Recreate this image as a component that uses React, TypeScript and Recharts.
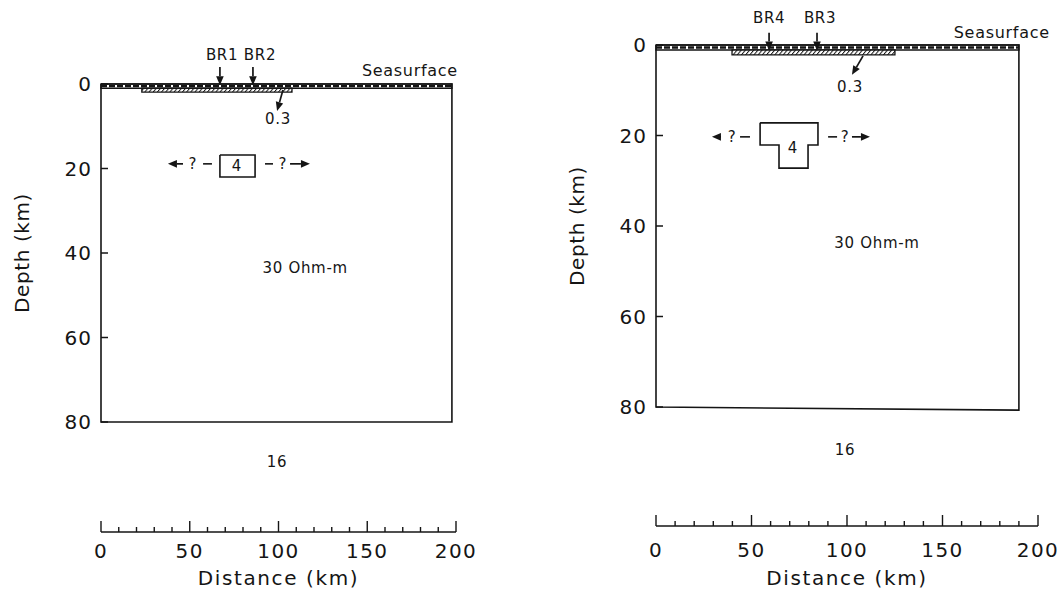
import React from 'react';
import { ComposedChart, XAxis, YAxis, Scatter, ReferenceArea, ReferenceLine } from 'recharts';

const FONT = '"DejaVu Sans", Verdana, sans-serif';
const INK = '#151515';

type Pt = { x: number; y: number };
type Note = Pt & { text: string };
type Seg = { from: Pt; to: Pt };
type Band = { x1: number; x2: number; y1: number; y2: number };

// shared axes (distance in km, depth in km)
const distanceTicks = [0, 10, 20, 30, 40, 50, 60, 70, 80, 90, 100, 110, 120, 130, 140, 150, 160, 170, 180, 190, 200];
const distanceLabels = [0, 50, 100, 150, 200];
const depthTicks = [0, 20, 40, 60, 80];

// ---- left model (BR1 / BR2)
const leftOutline: Pt[] = [
  { x: 0, y: 0 }, { x: 197.7, y: 0 }, { x: 197.7, y: 80 }, { x: 0, y: 80 }, { x: 0, y: 0 },
];
const leftSea: Band = { x1: 0, x2: 197.7, y1: 0, y2: 1 };
const leftSediment: Band = { x1: 23, x2: 107.6, y1: 1, y2: 1.9 };
const leftBody: Pt[] = [
  { x: 67, y: 16.8 }, { x: 86.8, y: 16.8 }, { x: 86.8, y: 22 }, { x: 67, y: 22 }, { x: 67, y: 16.8 },
];
const leftArrows: Seg[] = [
  { from: { x: 67, y: -4.0 }, to: { x: 67, y: 0.3 } },
  { from: { x: 85.6, y: -4.0 }, to: { x: 85.6, y: 0.3 } },
  { from: { x: 102.5, y: 1.4 }, to: { x: 99.2, y: 6.4 } },
  { from: { x: 46.2, y: 18.9 }, to: { x: 37.7, y: 18.9 } },
  { from: { x: 106.5, y: 18.9 }, to: { x: 117.7, y: 18.9 } },
];
const leftDashes: Seg[] = [
  { from: { x: 57.5, y: 18.9 }, to: { x: 62.5, y: 18.9 } },
  { from: { x: 92.4, y: 18.9 }, to: { x: 96.9, y: 18.9 } },
];
const leftNotes: Note[] = [
  { x: 68.2, y: -6.9, text: 'BR1' },
  { x: 89.6, y: -6.9, text: 'BR2' },
  { x: 174, y: -3.3, text: 'Seasurface' },
  { x: 99.7, y: 8.3, text: '0.3' },
  { x: 76.6, y: 19.4, text: '4' },
  { x: 51.8, y: 18.9, text: '?' },
  { x: 102.5, y: 18.9, text: '?' },
  { x: 115, y: 43.5, text: '30 Ohm-m' },
  { x: 99.2, y: 89.5, text: '16' },
];

// ---- right model (BR4 / BR3)
const rightOutline: Pt[] = [
  { x: 0, y: 0 }, { x: 190, y: 0 }, { x: 190, y: 80.7 }, { x: 0, y: 80 }, { x: 0, y: 0 },
];
const rightSea: Band = { x1: 0, x2: 190, y1: 0, y2: 1.1 };
const rightSediment: Band = { x1: 39.8, x2: 125.1, y1: 1.1, y2: 2.2 };
const rightBody: Pt[] = [
  { x: 54.5, y: 17.2 }, { x: 84.8, y: 17.2 }, { x: 84.8, y: 22.1 }, { x: 79.6, y: 22.1 },
  { x: 79.6, y: 27.2 }, { x: 64.4, y: 27.2 }, { x: 64.4, y: 22.1 }, { x: 54.5, y: 22.1 }, { x: 54.5, y: 17.2 },
];
const rightArrows: Seg[] = [
  { from: { x: 59.2, y: -2.7 }, to: { x: 59.2, y: 1.2 } },
  { from: { x: 84.3, y: -2.7 }, to: { x: 84.3, y: 1.2 } },
  { from: { x: 108.4, y: 2.4 }, to: { x: 102.6, y: 6.6 } },
  { from: { x: 33.5, y: 20.3 }, to: { x: 29.3, y: 20.3 } },
  { from: { x: 102.6, y: 20.3 }, to: { x: 112, y: 20.3 } },
];
const rightDashes: Seg[] = [
  { from: { x: 44, y: 20.3 }, to: { x: 49.2, y: 20.3 } },
  { from: { x: 90.1, y: 20.3 }, to: { x: 94.8, y: 20.3 } },
];
const rightNotes: Note[] = [
  { x: 59.2, y: -6.0, text: 'BR4' },
  { x: 85.9, y: -6.0, text: 'BR3' },
  { x: 181, y: -2.7, text: 'Seasurface' },
  { x: 101.6, y: 9.3, text: '0.3' },
  { x: 71.7, y: 22.8, text: '4' },
  { x: 39.8, y: 20.3, text: '?' },
  { x: 99, y: 20.3, text: '?' },
  { x: 115.7, y: 43.8, text: '30 Ohm-m' },
  { x: 99, y: 89.5, text: '16' },
];

type Layout = {
  id: string;
  left: number; width: number;
  plotLeft: number; plotRight: number;
  zeroY: number; kmPx: number; axisY: number; topKm: number;
  numDy: number; titleDy: number; depthTitleX: number;
};

const leftLayout: Layout = {
  id: 'l', left: 0, width: 532, plotLeft: 101, plotRight: 456,
  zeroY: 84, kmPx: 4.225, axisY: 532, topKm: -12, numDy: 19, titleDy: 46, depthTitleX: 22,
};
const rightLayout: Layout = {
  id: 'r', left: 532, width: 532, plotLeft: 656, plotRight: 1038,
  zeroY: 45, kmPx: 4.525, axisY: 526, topKm: -9, numDy: 24, titleDy: 52, depthTitleX: 45,
};

const H = 594;
const Y_AXIS_W = 60;
const X_AXIS_H = 56;

const NoDot = () => null;

const NoteShape = (p: any) => {
  const big = p.payload.text === 'Seasurface';
  return (
    <text x={p.cx} y={p.cy} textAnchor="middle" dominantBaseline="central"
      fontFamily={FONT} fontSize={big ? 16 : 15} letterSpacing={0.7} fill={INK}>
      {p.payload.text}
    </text>
  );
};

const arrowShape = (p: any) => {
  const { x1, y1, x2, y2 } = p;
  const a = Math.atan2(y2 - y1, x2 - x1);
  const L = 9, W = 3.8;
  const bx = x2 - L * Math.cos(a), by = y2 - L * Math.sin(a);
  const pts = `${x2},${y2} ${bx + W * Math.sin(a)},${by - W * Math.cos(a)} ${bx - W * Math.sin(a)},${by + W * Math.cos(a)}`;
  return (
    <g>
      <line x1={x1} y1={y1} x2={bx} y2={by} stroke={INK} strokeWidth={1.7} />
      <polygon points={pts} fill={INK} />
    </g>
  );
};

const DistanceTick = (props: any) => {
  const { x, y, payload, numDy } = props;
  const major = distanceLabels.includes(payload.value);
  return (
    <g>
      <line x1={x} x2={x} y1={y} y2={y - (major ? 11 : 5)} stroke={INK} strokeWidth={1.4} />
      {major && (
        <text x={x} y={y + numDy} textAnchor="middle" dominantBaseline="central"
          fontFamily={FONT} fontSize={20} letterSpacing={1.5} fill={INK}>
          {payload.value}
        </text>
      )}
    </g>
  );
};

const DepthTick = (props: any) => {
  const { x, y, payload } = props;
  return (
    <g>
      <line x1={x} x2={x + 7} y1={y} y2={y} stroke={INK} strokeWidth={1.5} />
      <text x={x - 9} y={y} textAnchor="end" dominantBaseline="central"
        fontFamily={FONT} fontSize={20} letterSpacing={1} fill={INK}>
        {payload.value}
      </text>
    </g>
  );
};

function Panel({ lay, outline, sea, sediment, body, arrows, dashes, notes }: {
  lay: Layout; outline: Pt[]; sea: Band; sediment: Band; body: Pt[];
  arrows: Seg[]; dashes: Seg[]; notes: Note[];
}) {
  const top = lay.zeroY + lay.topKm * lay.kmPx;
  const bottomKm = (lay.axisY - lay.zeroY) / lay.kmPx;
  const margin = {
    top,
    bottom: H - lay.axisY - X_AXIS_H,
    left: lay.plotLeft - lay.left - Y_AXIS_W,
    right: lay.left + lay.width - lay.plotRight,
  };
  const hatch = `hatch-${lay.id}`;
  const midSea = (sea.y1 + sea.y2) / 2;

  return (
    <div style={{ position: 'absolute', left: lay.left, top: 0 }}>
      <ComposedChart width={lay.width} height={H} margin={margin}>
        <defs>
          <pattern id={hatch} width={3.2} height={3.2} patternUnits="userSpaceOnUse" patternTransform="rotate(40)">
            <rect width={3.2} height={3.2} fill="#fff" />
            <line x1={0} y1={0} x2={0} y2={3.2} stroke={INK} strokeWidth={2} />
          </pattern>
        </defs>
        <XAxis
          type="number" dataKey="x" domain={[0, 200]} ticks={distanceTicks} interval={0}
          height={X_AXIS_H} tickSize={0} tickMargin={0} tickLine={false}
          axisLine={{ stroke: INK, strokeWidth: 1.4 }}
          tick={<DistanceTick numDy={lay.numDy} />}
          label={{
            content: (p: any) => {
              const vb = p.viewBox || {};
              return (
                <text x={vb.x + vb.width / 2} y={lay.axisY + lay.titleDy} textAnchor="middle"
                  dominantBaseline="central" fontFamily={FONT} fontSize={20} letterSpacing={1.6} fill={INK}>
                  Distance (km)
                </text>
              );
            },
          }}
        />
        <YAxis
          type="number" dataKey="y" domain={[lay.topKm, bottomKm]} reversed ticks={depthTicks} interval={0}
          width={Y_AXIS_W} tickSize={0} tickMargin={0} tickLine={false} axisLine={false}
          tick={<DepthTick />}
          label={{
            content: () => {
              const cy = lay.zeroY + 40 * lay.kmPx;
              return (
                <text x={lay.depthTitleX} y={cy} textAnchor="middle" dominantBaseline="central"
                  transform={`rotate(-90 ${lay.depthTitleX} ${cy})`}
                  fontFamily={FONT} fontSize={20} letterSpacing={0.6} fill={INK}>
                  Depth (km)
                </text>
              );
            },
          }}
        />
        <ReferenceArea x1={sea.x1} x2={sea.x2} y1={sea.y1} y2={sea.y2}
          fill="#fff" fillOpacity={1} stroke={INK} strokeWidth={1.4} ifOverflow="visible" />
        <ReferenceLine segment={[{ x: sea.x1, y: midSea }, { x: sea.x2, y: midSea }]}
          stroke={INK} strokeWidth={2.4} strokeDasharray="6 2" ifOverflow="visible" />
        <ReferenceArea x1={sediment.x1} x2={sediment.x2} y1={sediment.y1} y2={sediment.y2}
          fill={`url(#${hatch})`} fillOpacity={1} stroke={INK} strokeWidth={1.3} ifOverflow="visible" />
        <Scatter data={outline} line={{ stroke: INK, strokeWidth: 1.6 }} shape={NoDot} isAnimationActive={false} />
        <Scatter data={body} line={{ stroke: INK, strokeWidth: 1.6 }} shape={NoDot} isAnimationActive={false} />
        {arrows.map((s, i) => (
          <ReferenceLine key={`a${i}`} segment={[s.from, s.to]} shape={arrowShape} ifOverflow="visible" />
        ))}
        {dashes.map((s, i) => (
          <ReferenceLine key={`d${i}`} segment={[s.from, s.to]} stroke={INK} strokeWidth={1.6} ifOverflow="visible" />
        ))}
        <Scatter data={notes} shape={NoteShape} isAnimationActive={false} />
      </ComposedChart>
    </div>
  );
}

export default function App() {
  return (
    <div style={{ position: 'absolute', left: 0, top: 0, width: 1064, height: H, background: '#fff', overflow: 'hidden' }}>
      <Panel lay={leftLayout} outline={leftOutline} sea={leftSea} sediment={leftSediment} body={leftBody}
        arrows={leftArrows} dashes={leftDashes} notes={leftNotes} />
      <Panel lay={rightLayout} outline={rightOutline} sea={rightSea} sediment={rightSediment} body={rightBody}
        arrows={rightArrows} dashes={rightDashes} notes={rightNotes} />
    </div>
  );
}
